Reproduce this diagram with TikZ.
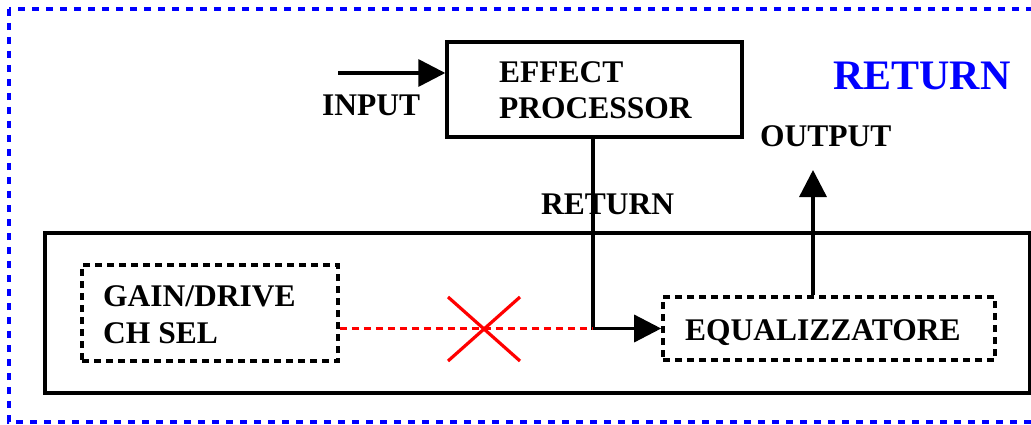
\documentclass[tikz,border=0pt]{standalone}
\usepackage{fontspec}
\setmainfont{Liberation Serif}
\usetikzlibrary{arrows.meta,calc}

\tikzset{
  lbl/.style={inner sep=0pt, anchor=base west, align=left,
    font=\bfseries\fontsize{31.5}{36.5}\selectfont},
  title/.style={inner sep=0pt, anchor=base west, text=blue,
    font=\bfseries\fontsize{42}{48}\selectfont},
  solidbox/.style={draw, line width=3.4pt, inner sep=0pt},
  dashbox/.style={draw, line width=3.6pt, inner sep=0pt,
    dash pattern=on 7pt off 5pt},
  wire/.style={line width=3.4pt},
  arrowwire/.style={wire, -{Triangle[length=27pt,width=27pt]}},
  cut/.style={red, line width=3.4pt, dash pattern=on 7pt off 5pt},
  cross/.style={red, line width=3.2pt},
  frame/.style={blue, line width=3.4pt, dash pattern=on 7pt off 7pt}
}

\begin{document}
\begin{tikzpicture}[x=1pt, y=-1pt]
  \useasboundingbox (0,0) rectangle (1031,425);
  \clip (0,0) rectangle (1031,425);

  % outer dashed frame
  \draw[frame] (9,9) rectangle (1060,422);

  % amplifier body
  \node[solidbox, minimum width=985pt, minimum height=160pt] (amp) at (537.5,313) {};

  % stages inside the amplifier
  \node[dashbox, minimum width=256pt, minimum height=96pt] (gain) at (210,313) {};
  \node[dashbox, minimum width=332pt, minimum height=63pt] (eq) at (829,328.5) {};

  % external effect processor
  \node[solidbox, minimum width=295pt, minimum height=95pt] (proc) at (594.5,89.5) {};

  % texts (multi-line labels sit on the baseline of their last line)
  \node[lbl] (tproc) at (499,119) {EFFECT\\PROCESSOR};
  \node[lbl] (tin) at (322,116) {INPUT};
  \node[lbl] (tret) at (541,214) {RETURN};
  \node[lbl] (tout) at (760,147) {OUTPUT};
  \node[lbl] (tgain) at (103,343) {GAIN/DRIVE\\CH SEL};
  \node[lbl] (teq) at (685,340) {EQUALIZZATORE};
  \node[title] (ttitle) at (833,90) {RETURN};

  % signal path
  \coordinate (inStart) at (338,73);
  \draw[arrowwire] (inStart) -- (inStart -| proc.west);

  \coordinate (retDrop) at (593,137);
  \draw[arrowwire] (retDrop) |- (eq.west);

  \coordinate (outTip) at (813,170);
  \draw[arrowwire] (outTip |- eq.north) -- (outTip);

  % interrupted link between the stages
  \draw[cut] (gain.east |- eq.west) -- (retDrop |- eq.west);
  \coordinate (x) at (484,329);
  \draw[cross] ($(x)+(-36,-32)$) -- ($(x)+(36,32)$);
  \draw[cross] ($(x)+(-36,32)$) -- ($(x)+(36,-32)$);
\end{tikzpicture}
\end{document}
